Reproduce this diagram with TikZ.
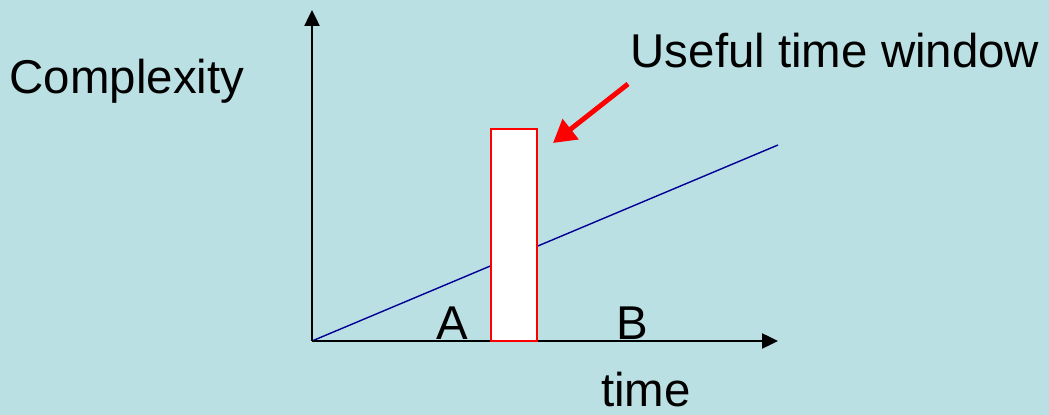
\documentclass[tikz,border=0pt]{standalone}
\usepackage{fontspec}
\setmainfont{Liberation Sans}
\usetikzlibrary{positioning, arrows.meta}
\definecolor{slide}{RGB}{186,224,227}
\definecolor{navy}{RGB}{0,0,150}

\begin{document}
\begin{tikzpicture}[
    x=0.02cm, y=-0.02cm,
    label/.style={font=\fontsize{27}{32}\selectfont, inner sep=0pt},
    axis/.style={-{Triangle[length=0.32cm, width=0.3cm]}, line width=1.4pt},
    trend/.style={draw=navy, line width=0.8pt},
    window/.style={rectangle, draw=red, fill=white, line width=1.3pt,
                   minimum width=0.92cm, minimum height=4.24cm, inner sep=0pt},
    pointer/.style={-{Triangle[length=0.45cm, width=0.5cm]}, draw=red, fill=red, line width=2.8pt}
  ]

    % Background
    \fill[slide] (0,0) rectangle (1049,415);
    \useasboundingbox (0,0) rectangle (1049,415);

    % Axes
    \coordinate (origin) at (312,341);
    \coordinate (ytip) at (312,10);
    \coordinate (xtip) at (778,341);
    \coordinate (trendend) at (778,145);

    \draw[trend] (origin) -- (trendend);
    \draw[axis] (origin) -- (ytip);
    \draw[axis] (origin) -- (xtip);

    % Time window
    \node[window] (useful) at (514,235) {};

    % Labels
    \node[label] (complexity) at (127,81) {Complexity};
    \node[label] (windowtext) at (835,51) {Useful time window};
    \node[label] (regiona) at (452,323) {A};
    \node[label] (regionb) at (632,323) {B};
    \node[label] (time) at (646,390) {time};

    % Pointer
    \coordinate (pointerstart) at (628,84);
    \coordinate (pointerend) at (553,143);
    \draw[pointer] (pointerstart) -- (pointerend);

  \end{tikzpicture}
\end{document}
